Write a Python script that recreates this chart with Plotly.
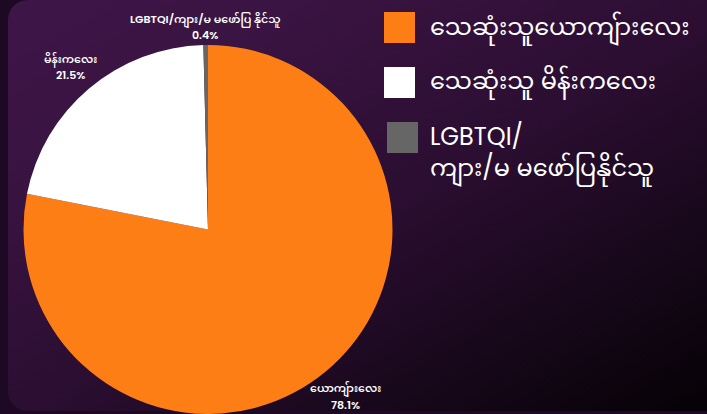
import base64
import math
import plotly.graph_objects as go

# ---- data ----
legend_names = ["သေဆုံးသူယောကျ်ားလေး", "သေဆုံးသူ မိန်းကလေး", "LGBTQI/<br>ကျား/မ မဖော်ပြနိုင်သူ"]
slice_labels = ["ယောကျ်ားလေး", "မိန်းကလေး", "LGBTQI/ကျား/မ မဖော်ပြ နိုင်သူ"]
values = [78.1, 21.5, 0.4]
colors = ["#fd7e14", "#ffffff", "#666666"]

W, H = 707, 414
FONT = "Poppins, Inter, 'Noto Sans Myanmar', 'Noto Sans', sans-serif"

def px(x):
    return x / W

def py(y):
    return 1 - y / H

# background: rounded panel with diagonal gradient
svg = f'''<svg xmlns="http://www.w3.org/2000/svg" width="{W}" height="{H}" viewBox="0 0 {W} {H}" preserveAspectRatio="none">
<defs><linearGradient id="g" x1="0" y1="0" x2="1" y2="1">
<stop offset="0" stop-color="#3e1548"/>
<stop offset="0.2" stop-color="#3a1442"/>
<stop offset="0.5" stop-color="#2c0e32"/>
<stop offset="0.67" stop-color="#1e0a22"/>
<stop offset="1" stop-color="#040104"/>
</linearGradient></defs>
<rect x="0" y="0" width="{W}" height="{H}" fill="#1d0924"/>
<rect x="8" y="0" width="{W+20}" height="{H-3}" rx="20" ry="20" fill="url(#g)"/>
</svg>'''
src = "data:image/svg+xml;base64," + base64.b64encode(svg.encode()).decode()

dom_x = [px(23), px(393)]
dom_y = [0, py(45)]

fig = go.Figure()
fig.add_trace(go.Pie(
    labels=legend_names,
    values=values,
    customdata=slice_labels,
    marker=dict(colors=colors, line=dict(width=0)),
    sort=False,
    direction="clockwise",
    rotation=0,
    textinfo="none",
    hoverinfo="label+percent",
    showlegend=False,
    domain=dict(x=dom_x, y=dom_y),
))

# outside labels placed along each slice's mid-angle (Chart.js-like "end" alignment)
box_w = W * (dom_x[1] - dom_x[0])
box_h = H * (dom_y[1] - dom_y[0])
r = min(box_w, box_h) / 2
cx = W * (dom_x[0] + dom_x[1]) / 2
cy = H * (1 - dom_y[0]) - box_h / 2
total = sum(values)
annots = []
cum = 0.0
label_font = dict(color="white", size=11, family=FONT, weight=600)
for lab, v in zip(slice_labels, values):
    mid = (cum + v / 2) / total * 2 * math.pi
    cum += v
    dx, dy = math.sin(mid), -math.cos(mid)
    hw, hh = 2.5 * len(lab), 12
    d = r + 5 + abs(dx) * hw + abs(dy) * hh
    lx, ly = cx + d * dx, cy + d * dy
    pct = v / total * 100
    annots.append(dict(xref="paper", yref="paper", x=px(lx), y=py(ly - 7.5),
                       xanchor="center", yanchor="middle", text=lab,
                       showarrow=False, font=label_font))
    annots.append(dict(xref="paper", yref="paper", x=px(lx), y=py(ly + 8),
                       xanchor="center", yanchor="middle", text=f"{pct:.1f}%",
                       showarrow=False, font=label_font))

# manual legend with large swatches
sw_boxes = [(384, 12), (384, 67), (387, 122)]
text_y = [28, 82, 153]
shapes = []
for (x0, y0), ty, name, col in zip(sw_boxes, text_y, legend_names, colors):
    shapes.append(dict(type="rect", xref="paper", yref="paper",
                       x0=px(x0), x1=px(x0 + 31), y0=py(y0 + 31), y1=py(y0),
                       fillcolor=col, line=dict(width=0), layer="above"))
    annots.append(dict(xref="paper", yref="paper", x=px(428), y=py(ty),
                       xanchor="left", yanchor="middle", align="left",
                       text=name, showarrow=False,
                       font=dict(color="white", size=24, family=FONT)))

fig.update_layout(
    width=W, height=H,
    margin=dict(l=0, r=0, t=0, b=0),
    paper_bgcolor="#1d0924",
    plot_bgcolor="rgba(0,0,0,0)",
    font=dict(family=FONT, color="white"),
    images=[dict(source=src, xref="paper", yref="paper", x=0, y=1,
                 sizex=1, sizey=1, sizing="stretch", layer="below",
                 xanchor="left", yanchor="top")],
    shapes=shapes,
    annotations=annots,
)

fig.write_html("out.html", config={"displayModeBar": False},
               post_script="document.body.style.margin='0';document.body.style.background='#1d0924';")
